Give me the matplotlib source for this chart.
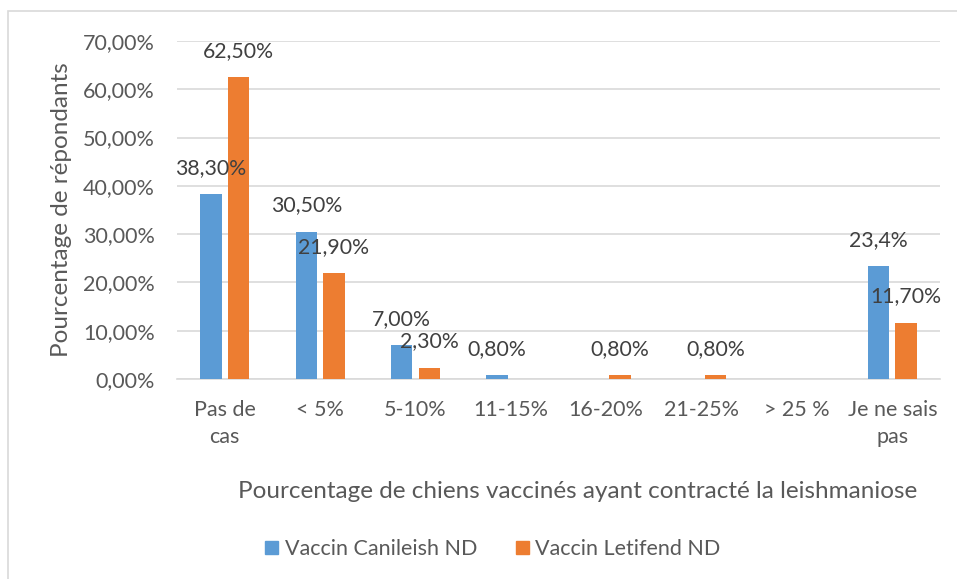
import numpy as np
import matplotlib.pyplot as plt
import matplotlib.patches as mpatches
from matplotlib.ticker import FuncFormatter

# data
categories = ['Pas de\ncas', '< 5%', '5-10%', '11-15%', '16-20%', '21-25%', '> 25 %', 'Je ne sais\npas']
canileish = [38.3, 30.5, 7.0, 0.8, 0.0, 0.0, 0.0, 23.4]
letifend = [62.5, 21.9, 2.3, 0.0, 0.8, 0.8, 0.0, 11.7]
canileish_labels = ['38,30%', '30,50%', '7,00%', '0,80%', '', '', '', '23,4%']
letifend_labels = ['62,50%', '21,90%', '2,30%', '', '0,80%', '0,80%', '', '11,70%']
series_names = ['Vaccin Canileish ND', 'Vaccin Letifend ND']

plt.rcParams['font.family'] = ['Lato', 'DejaVu Sans']
blue = '#5B9BD5'
orange = '#ED7D31'
grid_col = '#D9D9D9'
txt_col = '#595959'

fig = plt.figure(figsize=(9.57, 5.79), dpi=100)
ax = fig.add_axes([177 / 957, 1 - 379 / 579, (940 - 177) / 957, (379 - 41) / 579])

# chart border
fig.patches.append(mpatches.Rectangle((8 / 957, -0.05), 1.2, 1 - 11 / 579 + 0.05, transform=fig.transFigure,
                                      fill=False, edgecolor=grid_col, linewidth=1.2))

x = np.arange(len(categories))
w = 0.225
gap = 0.065
b1 = ax.bar(x - (w + gap) / 2, canileish, w, color=blue, zorder=3)
b2 = ax.bar(x + (w + gap) / 2, letifend, w, color=orange, zorder=3)

for bars, labels in [(b1, canileish_labels), (b2, letifend_labels)]:
    for rect, lab in zip(bars, labels):
        if lab:
            ax.annotate(lab, (rect.get_x() + rect.get_width() / 2, rect.get_height()),
                        xytext=(0, 19), textcoords='offset points', ha='center', va='center',
                        fontsize=15.3, color='#404040', zorder=4)

ax.set_ylim(0, 70)
ax.set_xlim(-0.5, len(categories) - 0.5)
ax.set_yticks(np.arange(0, 71, 10))
ax.yaxis.set_major_formatter(FuncFormatter(lambda v, p: ('%.2f%%' % v).replace('.', ',')))
ax.set_xticks(x)
ax.set_xticklabels(categories, linespacing=1.45)
ax.grid(axis='y', color=grid_col, linewidth=1.2, zorder=0)
for s in ['top', 'right', 'left']:
    ax.spines[s].set_visible(False)
ax.spines['bottom'].set_color(grid_col)
ax.spines['bottom'].set_linewidth(1.2)
ax.tick_params(axis='y', length=0, pad=16, labelsize=15.5, labelcolor=txt_col)
ax.tick_params(axis='x', length=0, pad=15, labelsize=15.5, labelcolor=txt_col)

ax.set_ylabel('Pourcentage de répondants', fontsize=17.5, color=txt_col, labelpad=8)
fig.text(578 / 957, 1 - 492 / 579, 'Pourcentage de chiens vaccinés ayant contracté la leishmaniose',
         ha='center', va='center', fontsize=17.5, color=txt_col)

handles = [mpatches.Patch(color=blue), mpatches.Patch(color=orange)]
fig.legend(handles, series_names, loc='center', bbox_to_anchor=(493 / 957, 1 - 549 / 579), ncol=2,
           frameon=False, fontsize=15.5, labelcolor=txt_col, handlelength=0.6, handleheight=0.6,
           handletextpad=0.3, columnspacing=1.8)

plt.savefig('out.png', dpi=100)
